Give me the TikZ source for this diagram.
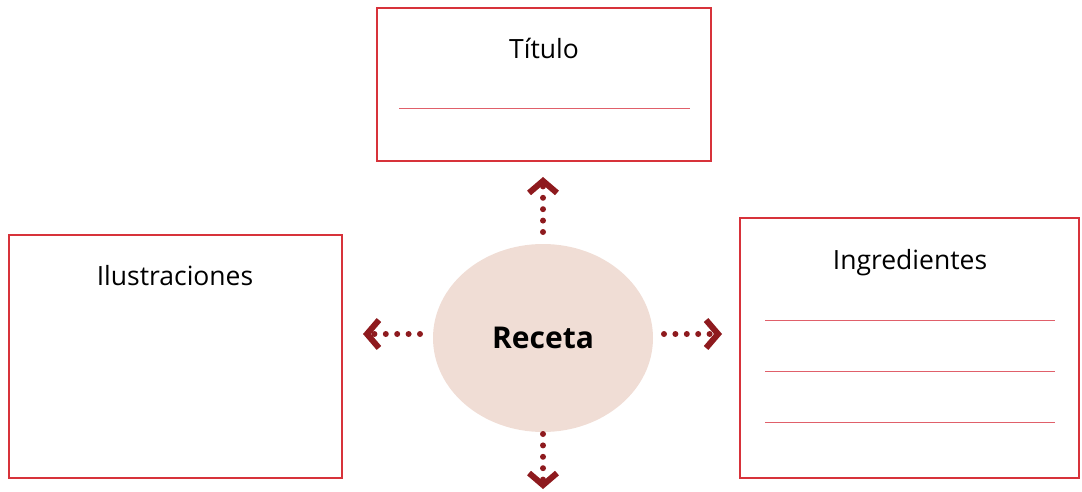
\documentclass[tikz,border=0pt]{standalone}
\usepackage{fontspec}
\setmainfont{Open Sans}
\usetikzlibrary{shapes.geometric,arrows.meta}
\definecolor{boxred}{HTML}{D7323A}
\definecolor{linered}{HTML}{E0606A}
\definecolor{darkred}{HTML}{8E1A1E}
\definecolor{blush}{HTML}{F0DDD5}
\begin{document}
\begin{tikzpicture}[x=1pt,y=-1pt,
  frame/.style={draw=boxred,line width=2.6pt},
  rule/.style={draw=linered,line width=1pt},
  label/.style={font=\fontsize{26.5}{30}\selectfont,text=black,inner sep=0pt,anchor=base},
  dotcon/.style={draw=darkred,line width=6pt,line cap=round,dash pattern=on 0pt off 11.4pt,
     -{Straight Barb[length=12pt,width=28pt,line width=6pt,line cap=butt]}}
]
\useasboundingbox (0,0) rectangle (1082,492);
% boxes
\draw[frame] (377,8) rectangle (711,161);
\draw[frame] (9,235) rectangle (342,478);
\draw[frame] (740,218) rectangle (1079,478);
% labels
\node[label] (tit) at (544,59) {Título};
\node[label] (ilu) at (175,285) {Ilustraciones};
\node[label] (ing) at (910,269) {Ingredientes};
% rules
\draw[rule] (399,109) -- (690,109);
\draw[rule] (765,320) -- (1055,320);
\draw[rule] (765,371) -- (1055,371);
\draw[rule] (765,422) -- (1055,422);
% center
\node[ellipse,fill=blush,minimum width=220pt,minimum height=188pt,inner sep=0pt,
      font=\bfseries\fontsize{30}{34}\selectfont] (rec) at (543,338) {Receta};
% arrows
\coordinate (tu) at (543,177);
\coordinate (td) at (543,489);
\coordinate (tl) at (363,334);
\coordinate (tr) at (722,334);
\draw[dotcon] (543,232) -- (tu);
\draw[dotcon] (543,434) -- (td);
\draw[dotcon] (420,334) -- (tl);
\draw[dotcon] (664,334) -- (tr);
\end{tikzpicture}
\end{document}
